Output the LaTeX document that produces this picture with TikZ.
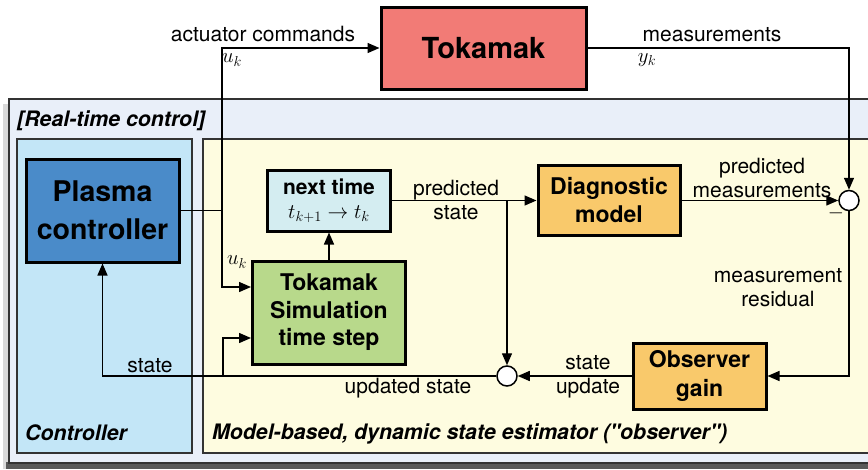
\documentclass[tikz,border=0pt]{standalone}
\usepackage{fontspec}
\setmainfont{TeX Gyre Heros}
\usetikzlibrary{arrows.meta,calc}

\definecolor{tokred}{HTML}{F27B76}
\definecolor{ctrlblue}{HTML}{4A8BC9}
\definecolor{nextcyan}{HTML}{D4EDF1}
\definecolor{simgreen}{HTML}{B8D98B}
\definecolor{blockorange}{HTML}{F9C96B}
\definecolor{outerfill}{HTML}{E9EFF9}
\definecolor{ctrlpanel}{HTML}{C3E6F7}
\definecolor{obspanel}{HTML}{FEFCE0}
\definecolor{panelline}{HTML}{333333}

\tikzset{
  block/.style={draw=black, line width=3pt, align=center, inner sep=2pt,
    font=\bfseries},
  conn/.style={draw=black, line width=1.4pt},
  arr/.style={conn, -{Triangle[length=12pt,width=10pt]}},
  sumnode/.style={circle, draw=black, line width=1.5pt, fill=white,
    minimum size=20pt, inner sep=0pt},
  lbl/.style={align=center, inner sep=0pt,
    font=\fontsize{21}{24}\selectfont},
  paneltitle/.style={anchor=west, inner sep=0pt,
    font=\fontsize{21.3}{23}\selectfont\bfseries\itshape},
  panel/.style={draw=panelline, line width=1.4pt},
}

\begin{document}
\begin{tikzpicture}[x=1pt,y=-1pt]
  \clip (0,0) rectangle (868,469);
  \fill[white] (0,0) rectangle (868,469);

  % shadow and panels
  \fill[black!15] (3,104) rectangle (880,469);
  \fill[black!65] (6,462) rectangle (880,469);
  \filldraw[panel, fill=outerfill] (9,99) rectangle (880,463);
  \filldraw[panel, fill=ctrlpanel] (17,139) rectangle (192,453);
  \filldraw[panel, fill=obspanel] (203,139) rectangle (880,453);

  \node[paneltitle] (rtc) at (17,121) {[Real-time control]};
  \node[paneltitle] (ctl) at (25,433) {Controller};
  \node[paneltitle] (obst) at (212,434)
    {Model-based, dynamic state estimator (\textquotedbl observer\textquotedbl)};

  % blocks
  \node[block, fill=tokred, minimum width=205pt, minimum height=82pt,
    font=\fontsize{29}{32}\selectfont\bfseries] (tok) at (483.5,48) {Tokamak};
  \node[block, fill=ctrlblue, minimum width=153pt, minimum height=103pt,
    font=\fontsize{28.5}{38}\selectfont\bfseries] (plasma) at (102.5,210.5) {Plasma\\controller};
  \node[block, fill=nextcyan, minimum width=123pt, minimum height=61pt,
    font=\fontsize{21}{23}\selectfont\bfseries] (next) at (329,200.5)
    {next time\\[1pt]\mdseries$t_{k+1}\to t_k$};
  \node[block, fill=simgreen, minimum width=153pt, minimum height=103pt,
    font=\fontsize{23}{27.5}\selectfont\bfseries] (sim) at (329,312.5)
    {Tokamak\\Simulation\\time step};
  \node[block, fill=blockorange, minimum width=142pt, minimum height=70pt,
    font=\fontsize{23}{28}\selectfont\bfseries] (diag) at (609,200.5)
    {Diagnostic\\model};
  \node[block, fill=blockorange, minimum width=133pt, minimum height=66pt,
    font=\fontsize{23}{29}\selectfont\bfseries] (obs) at (699.5,376)
    {Observer\\gain};

  \node[sumnode] (c1) at (849,200.5) {};
  \node[sumnode] (c2) at (507,376) {};

  % junction points
  \coordinate (ju) at (222,210.5);
  \coordinate (jp) at (507,200.5);
  \coordinate (jb) at (223,376);

  % connectors
  \draw[conn] (plasma.east) -- (ju);
  \draw[arr] (ju) |- (tok.west);
  \draw[arr] (ju) |- ([yshift=25.5pt]sim.west);
  \draw[arr] (tok.east) -| (c1.north);
  \draw[arr] (next.east) -- (diag.west);
  \draw[arr] (jp) -- (c2.north);
  \draw[arr] (diag.east) -- (c1.west);
  \draw[arr] (c1.south) |- (obs.east);
  \draw[arr] (obs.west) -- (c2.east);
  \draw[arr] (c2.west) -| (plasma.south);
  \draw[arr] (jb) |- ([yshift=-25.5pt]sim.west);
  \draw[arr] (sim.north) -- (next.south);

  % labels
  \node[lbl] (lact) at (263,34.5) {actuator commands};
  \node[lbl] (luk) at (232,60) {$u_k$};
  \node[lbl] (lmeas) at (712,34.5) {measurements};
  \node[lbl] (lyk) at (647,60) {$y_k$};
  \node[lbl] (lps) at (456,200) {predicted\\state};
  \node[lbl] (lpm) at (762,178) {predicted\\measurements};
  \node[lbl] (lminus) at (836,213) {$-$};
  \node[lbl] (lres) at (778,288) {measurement\\residual};
  \node[lbl] (lsu) at (588,377) {state\\update};
  \node[lbl] (lus) at (408,388) {updated state};
  \node[lbl] (lst) at (150,366) {state};
  \node[lbl] (luk2) at (237,262) {$u_k$};
\end{tikzpicture}
\end{document}
